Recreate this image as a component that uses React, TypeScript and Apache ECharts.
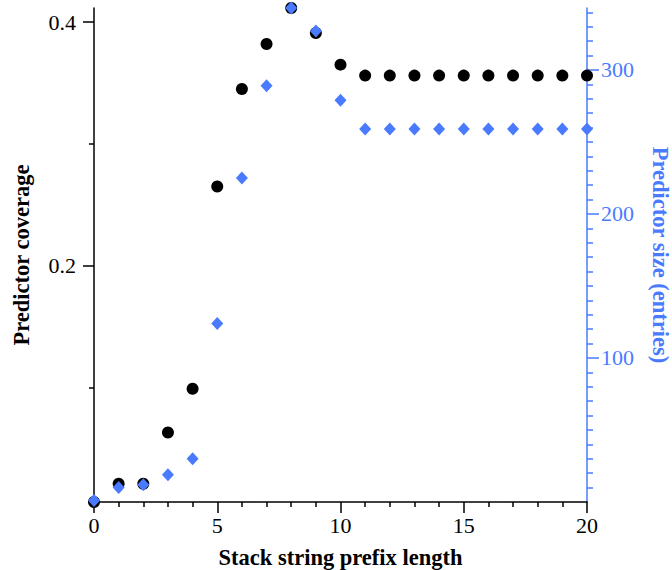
import React, { useEffect, useRef } from "react";
import * as echarts from "echarts";

const prefixLengths = [0, 1, 2, 3, 4, 5, 6, 7, 8, 9, 10, 11, 12, 13, 14, 15, 16, 17, 18, 19, 20];
const coverage = [0.006, 0.021, 0.021, 0.063, 0.099, 0.265, 0.345, 0.382, 0.4115, 0.391, 0.365, 0.356, 0.356, 0.356, 0.356, 0.356, 0.356, 0.356, 0.356, 0.356, 0.356];
const sizes = [1, 10, 12, 19, 30, 124, 225, 289, 343, 327, 279, 259, 259, 259, 259, 259, 259, 259, 259, 259, 259];
const coverageTickLabels = [0.2, 0.4];
const coverageMinorTicks = [0.1, 0.3];
const sizeTickLabels = [100, 200, 300];
const sizeMinorTicks = [10, 20, 30, 40, 50, 60, 70, 80, 90, 110, 120, 130, 140, 150, 160, 170, 180, 190, 210, 220, 230, 240, 250, 260, 270, 280, 290, 310, 320, 330, 340];

const BLUE = "#4a7bff";
const FONT = "'Liberation Serif', 'DejaVu Serif', serif";

export default function App() {
  const ref = useRef<HTMLDivElement>(null);
  useEffect(() => {
    document.body.style.margin = "0";
    if (!ref.current) return;
    const chart = echarts.init(ref.current, undefined, { renderer: "svg" });
    const covMin = Math.min(...coverage);
    const covMax = Math.max(...coverage);
    const sizeMax = Math.max(...sizes);
    chart.setOption({
      animation: false,
      backgroundColor: "#ffffff",
      grid: { left: 94, right: 85, top: 8, bottom: 68, outerBoundsMode: "none", containLabel: false },
      xAxis: {
        type: "value",
        min: 0,
        max: 20,
        interval: 5,
        axisLine: { show: true, lineStyle: { color: "#000", width: 1.5 } },
        axisTick: { show: true, length: 11, lineStyle: { color: "#000", width: 1.5 } },
        minorTick: { show: true, splitNumber: 5, length: 5, lineStyle: { color: "#000", width: 1.5 } },
        splitLine: { show: false },
        axisLabel: { color: "#000", fontSize: 22, fontFamily: FONT, margin: 12 },
        name: "Stack string prefix length",
        nameLocation: "middle",
        nameGap: 44,
        nameTextStyle: { color: "#000", fontSize: 22.5, fontWeight: "bold", fontFamily: FONT },
      },
      yAxis: [
        {
          type: "value",
          position: "left",
          min: covMin,
          max: covMax,
          axisLine: { show: true, lineStyle: { color: "#000", width: 1.5 } },
          axisTick: { show: true, length: 11, customValues: coverageTickLabels, lineStyle: { color: "#000", width: 1.5 } },
          axisLabel: { color: "#000", fontSize: 22, fontFamily: FONT, margin: 18, customValues: coverageTickLabels, formatter: (v: number) => v.toFixed(1) },
          splitLine: { show: false },
          name: "Predictor coverage",
          nameLocation: "middle",
          nameGap: 61,
          nameTextStyle: { color: "#000", fontSize: 22.5, fontWeight: "bold", fontFamily: FONT, padding: [0, 0, 0, 0] },
        },
        {
          type: "value",
          position: "left",
          min: covMin,
          max: covMax,
          axisLine: { show: false },
          axisTick: { show: true, length: 5, customValues: coverageMinorTicks, lineStyle: { color: "#000", width: 1.5 } },
          axisLabel: { show: false },
          splitLine: { show: false },
        },
        {
          type: "value",
          position: "right",
          min: 0,
          max: sizeMax,
          axisLine: { show: true, lineStyle: { color: BLUE, width: 1.5 } },
          axisTick: { show: true, length: 12, customValues: sizeTickLabels, lineStyle: { color: BLUE, width: 1.5 } },
          axisLabel: { color: BLUE, fontSize: 22, fontFamily: FONT, margin: 14, customValues: sizeTickLabels },
          splitLine: { show: false },
          name: "Predictor size (entries)",
          nameLocation: "middle",
          nameRotate: -90,
          nameGap: 62,
          nameTextStyle: { color: BLUE, fontSize: 22.5, fontWeight: "bold", fontFamily: FONT },
        },
        {
          type: "value",
          position: "right",
          min: 0,
          max: sizeMax,
          axisLine: { show: false },
          axisTick: { show: true, length: 6, customValues: sizeMinorTicks, lineStyle: { color: BLUE, width: 1.5 } },
          axisLabel: { show: false },
          splitLine: { show: false },
        },
      ],
      series: [
        {
          type: "scatter",
          name: "Predictor coverage",
          yAxisIndex: 0,
          symbol: "circle",
          symbolSize: 12,
          clip: false,
          itemStyle: { color: "#000", opacity: 1 },
          data: prefixLengths.map((x, i) => [x, coverage[i]]),
        },
        {
          type: "scatter",
          name: "Predictor size (entries)",
          yAxisIndex: 2,
          symbol: "diamond",
          symbolSize: [12, 13],
          clip: false,
          itemStyle: { color: BLUE, opacity: 1 },
          data: prefixLengths.map((x, i) => [x, sizes[i]]),
        },
      ],
    });
    return () => chart.dispose();
  }, []);
  return <div ref={ref} style={{ width: 672, height: 570 }} />;
}
